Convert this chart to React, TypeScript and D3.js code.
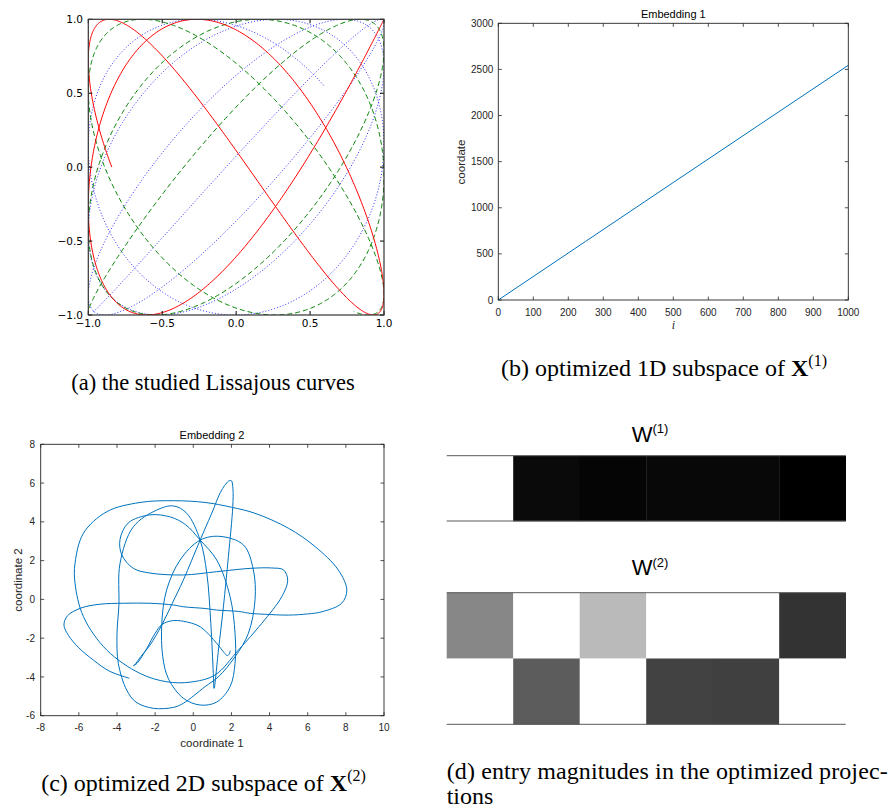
import React from "react";
import * as d3 from "d3";

const SANS = "'Liberation Sans', Arial, Helvetica, sans-serif";
const SERIF = "'Liberation Serif', 'Times New Roman', serif";
const MPL = "'DejaVu Sans', sans-serif";
const AXIS = "#262626";

// (a) Lissajous curves: x = cos(freqX * t), y = cos(freqY * t + phase)
const lissajousColor = ["#0000ff", "#008000", "#ff0000"];
const lissajousDash = ["1,2", "5,3", "none"];
const lissajousOpacity = [0.85, 1, 1];
const lissajousFreqX = [1, 1, Math.SQRT2];
const lissajousFreqY = [1.0948, 1.1547, 2];
const lissajousPhase = [-0.372, -0.31, 0];
const lissajousStart = [3.4, 3.0, -2.25 * Math.PI];
const lissajousEnd = [24.2, 19.5, 0];
const lissajousTicks = [-1, -0.5, 0, 0.5, 1];

// (b) Embedding 1
const embed1Index = [0, 250, 500, 750, 1000];
const embed1Coord = [0, 637, 1274, 1910, 2545];
const embed1XTicks = [0, 100, 200, 300, 400, 500, 600, 700, 800, 900, 1000];
const embed1YTicks = [0, 500, 1000, 1500, 2000, 2500, 3000];

// (c) Embedding 2
const embed2C1 = [
  -3.35, -4.4, -5.24, -6.0, -6.55, -6.78, -6.6, -5.9, -4.9, -3.66, -2.27, -1.04, -0.52, 0.62, 1.23, 2.37, 2.98, 3.8, 4.99,
  6.0, 6.74, 7.78, 8.05, 7.6, 6.39, 4.99, 3.24, 2.02, 0.62, -1.04, -2.79, -4.54, -5.76, -6.2, -6.2, -5.76, -4.54, -2.79,
  -1.39, -0.17, 1.14, 2.37, 3.59, 4.64, 4.95, 4.73, 4.11, 2.98, 1.23, -0.52, -2.27, -3.14, -3.75, -3.84, -3.4, -2.27,
  -1.2, -0.4, 0.36, 1.23, 1.93, 2.19, 2.19, 1.93, 1.22, 0.36, -0.52, -1.3, -1.6, -1.65, -1.4, -0.69, 0.36, 1.4, 2.63,
  3.15, 3.24, 2.89, 2.19, 1.32, 0.62, -0.52, -1.04, -2.09, -3.0, -3.49, -3.93, -4.0, -3.9, -3.84, -3.14, -1.91, -1.04,
  -0.34, 0.36, 0.71, 0.92, 1.05, 1.09, 1.32, 1.58, 1.84, 2.07, 2.08, 2.0, 1.88, 1.49, 0.95, 0.36, -0.52, -1.1, -1.65,
  -2.27, -2.75, -3.08, -3.14, -2.95, -2.45, -2.0, -1.65, -1.1, -0.52, 0.36, 1.23, 1.62, 1.78, 1.9, 1.93,
];
const embed2C2 = [
  -4.07, -3.7, -3.13, -2.5, -1.85, -1.32, -0.85, -0.45, -0.25, -0.2, -0.2, -0.29, -0.38, -0.47, -0.55, -0.62, -0.72, -0.77, -0.81,
  -0.75, -0.64, -0.2, 0.48, 1.52, 2.72, 3.67, 4.44, 4.75, 5.0, 5.09, 5.0, 4.52, 3.41, 1.86, 0.83, -0.89, -2.61, -3.82,
  -4.25, -4.27, -3.9, -2.61, -1.24, 0.14, 1.0, 1.52, 1.62, 1.6, 1.43, 1.26, 1.36, 1.6, 2.3, 3.1, 3.95, 4.36,
  4.25, 3.85, 3.06, 2.03, 0.14, -1.75, -3.3, -4.5, -5.3, -5.45, -5.1, -4.1, -2.96, -1.24, 0.48, 2.03, 3.06, 3.25, 2.81,
  1.52, 0.0, -1.75, -2.96, -3.99, -4.5, -5.36, -5.57, -5.62, -5.3, -4.68, -3.3, -1.8, -0.3, 1.86, 3.75, 4.61, 4.82,
  4.44, 3.06, 1.34, -1.24, -3.82, -4.59, -2.61, -0.38, 2.2, 4.78, 5.7, 6.12, 6.12, 5.64, 4.4, 3.06, 1.0, -0.2, -1.32,
  -2.36, -2.95, -3.38, -3.42, -3.3, -2.55, -1.75, -1.3, -1.1, -1.13, -1.41, -2.27, -2.75, -2.9, -2.8, -2.65,
];
const embed2XTicks = [-8, -6, -4, -2, 0, 2, 4, 6, 8, 10];
const embed2YTicks = [-6, -4, -2, 0, 2, 4, 6, 8];

// (d) entry magnitudes
const w1Magnitude = [[0, 0.96, 0.98, 0.97, 0.97, 1.0]];
const w2Magnitude = [
  [0.47, 0, 0.27, 0, 0, 0.8],
  [0, 0.64, 0, 0.74, 0.75, 0],
];

type Lin = d3.ScaleLinear<number, number>;

function MatlabAxes({ xs, ys, xTicks, yTicks, yLabelGap }: { xs: Lin; ys: Lin; xTicks: number[]; yTicks: number[]; yLabelGap: number }) {
  const [x0, x1] = xs.range();
  const [yb, yt] = ys.range();
  const tl = 3.5;
  return (
    <g fontFamily={SANS} fontSize={10} fill={AXIS}>
      {xTicks.map((t) => (
        <g key={"x" + t}>
          <line x1={xs(t)} x2={xs(t)} y1={yb} y2={yb - tl} stroke={AXIS} strokeWidth={0.8} />
          <line x1={xs(t)} x2={xs(t)} y1={yt} y2={yt + tl} stroke={AXIS} strokeWidth={0.8} />
          <text x={xs(t)} y={yb + 15.5} textAnchor="middle">{String(t)}</text>
        </g>
      ))}
      {yTicks.map((t) => (
        <g key={"y" + t}>
          <line x1={x0} x2={x0 + tl} y1={ys(t)} y2={ys(t)} stroke={AXIS} strokeWidth={0.8} />
          <line x1={x1} x2={x1 - tl} y1={ys(t)} y2={ys(t)} stroke={AXIS} strokeWidth={0.8} />
          <text x={x0 - yLabelGap} y={ys(t) + 3.6} textAnchor="end">{String(t)}</text>
        </g>
      ))}
      <rect x={x0} y={yt} width={x1 - x0} height={yb - yt} fill="none" stroke={AXIS} strokeWidth={0.9} />
    </g>
  );
}

function Heatmap({ rows, top, rowH, left, right }: { rows: number[][]; top: number; rowH: number; left: number; right: number }) {
  const xb = d3.scaleBand<number>().domain(d3.range(rows[0].length)).range([left, right]);
  const yb = d3.scaleBand<number>().domain(d3.range(rows.length)).range([top, top + rowH * rows.length]);
  const gray = d3.scaleLinear<string>().domain([0, 1]).range(["#ffffff", "#000000"]);
  return (
    <g>
      {rows.map((row, r) =>
        row.map((m, c) => (
          <rect key={r + "-" + c} x={xb(c)} y={yb(r)} width={xb.bandwidth() + 0.3} height={yb.bandwidth() + 0.3} fill={gray(m)} />
        ))
      )}
      <line x1={left} x2={right} y1={top} y2={top} stroke="#5a5a5a" strokeWidth={1} />
      <line x1={left} x2={right} y1={top + rowH * rows.length} y2={top + rowH * rows.length} stroke="#5a5a5a" strokeWidth={1} />
    </g>
  );
}

export default function App() {
  // (a)
  const ax = d3.scaleLinear().domain([-1, 1]).range([88.3, 384]);
  const ay = d3.scaleLinear().domain([-1, 1]).range([315, 19.3]);
  const lissajousPaths = lissajousColor.map((_, k) => {
    const ts = d3.range(lissajousStart[k], lissajousEnd[k], 0.01).concat([lissajousEnd[k]]);
    return d3
      .line<number>()
      .x((t) => ax(Math.cos(lissajousFreqX[k] * t)))
      .y((t) => ay(Math.cos(lissajousFreqY[k] * t + lissajousPhase[k])))(ts);
  });
  const fmtA = (v: number) => v.toFixed(1).replace("-", "\u2212");

  // (b)
  const bx = d3.scaleLinear().domain([0, 1000]).range([498.3, 848.3]);
  const by = d3.scaleLinear().domain([0, 3000]).range([300, 23.3]);
  const embed1Line = d3
    .line<number>()
    .x((_, i) => bx(embed1Index[i]))
    .y((v) => by(v))(embed1Coord);

  // (c)
  const cx = d3.scaleLinear().domain([-8, 10]).range([40.7, 384]);
  const cy = d3.scaleLinear().domain([-6, 8]).range([715.7, 444.3]);
  const embed2Line = d3
    .line<number>()
    .x((v) => cx(v))
    .y((_, i) => cy(embed2C2[i]))
    .curve(d3.curveCatmullRom.alpha(0.5))(embed2C1);

  return (
    <svg width={891} height={810} style={{ position: "absolute", left: 0, top: 0, background: "#fff" }}>
      <rect width={891} height={810} fill="#fff" />
      <defs>
        <clipPath id="clipA">
          <rect x={88.3} y={19.3} width={295.7} height={295.7} />
        </clipPath>
      </defs>

      {/* (a) Lissajous curves */}
      <g clipPath="url(#clipA)">
        {lissajousPaths.map((d, k) => (
          <path key={k} d={d || ""} fill="none" stroke={lissajousColor[k]} strokeWidth={1}
            strokeDasharray={lissajousDash[k]} strokeOpacity={lissajousOpacity[k]} />
        ))}
      </g>
      <g fontFamily={MPL} fontSize={10.5} fill="#000">
        {lissajousTicks.map((t) => (
          <g key={"a" + t}>
            <line x1={ax(t)} x2={ax(t)} y1={315} y2={311} stroke="#000" />
            <line x1={ax(t)} x2={ax(t)} y1={19.3} y2={23.3} stroke="#000" />
            <line x1={88.3} x2={92.3} y1={ay(t)} y2={ay(t)} stroke="#000" />
            <line x1={384} x2={380} y1={ay(t)} y2={ay(t)} stroke="#000" />
            <text x={ax(t)} y={327} textAnchor="middle">{fmtA(t)}</text>
            <text x={83} y={ay(t) + 3.8} textAnchor="end">{fmtA(t)}</text>
          </g>
        ))}
        <rect x={88.3} y={19.3} width={295.7} height={295.7} fill="none" stroke="#333" strokeWidth={1.2} />
      </g>
      <text x={213} y={390} textAnchor="middle" fontFamily={SERIF} fontSize={22.5}>(a) the studied Lissajous curves</text>

      {/* (b) Embedding 1 */}
      <path d={embed1Line || ""} fill="none" stroke="#0072BD" strokeWidth={1} />
      <MatlabAxes xs={bx} ys={by} xTicks={embed1XTicks} yTicks={embed1YTicks} yLabelGap={5} />
      <text x={673.3} y={18} textAnchor="middle" fontFamily={SANS} fontSize={11} fill="#000">Embedding 1</text>
      <text transform="translate(465,162) rotate(-90)" textAnchor="middle" fontFamily={SANS} fontSize={11.5} fill={AXIS}>coordate</text>
      <text x={673.3} y={329} textAnchor="middle" fontFamily={SERIF} fontStyle="italic" fontSize={12} fill={AXIS}>i</text>
      <text x={664} y={376} textAnchor="middle" fontFamily={SERIF} fontSize={24}>
        (b) optimized 1D subspace of <tspan fontWeight="bold">X</tspan>
        <tspan dy={-10} fontSize={16}>(1)</tspan>
      </text>

      {/* (c) Embedding 2 */}
      <path d={embed2Line || ""} fill="none" stroke="#0072BD" strokeWidth={1} />
      <MatlabAxes xs={cx} ys={cy} xTicks={embed2XTicks} yTicks={embed2YTicks} yLabelGap={5.7} />
      <text x={212} y={439} textAnchor="middle" fontFamily={SANS} fontSize={11} fill="#000">Embedding 2</text>
      <text x={212} y={747} textAnchor="middle" fontFamily={SANS} fontSize={11.5} fill={AXIS}>coordinate 1</text>
      <text transform="translate(21.5,580) rotate(-90)" textAnchor="middle" fontFamily={SANS} fontSize={11.5} fill={AXIS}>coordinate 2</text>
      <text x={203.5} y={791} textAnchor="middle" fontFamily={SERIF} fontSize={24}>
        (c) optimized 2D subspace of <tspan fontWeight="bold">X</tspan>
        <tspan dy={-10} fontSize={16}>(2)</tspan>
      </text>

      {/* (d) entry magnitudes */}
      <text x={631.7} y={441.7} fontFamily={SANS} fontSize={22}>W<tspan dy={-8.5} fontSize={13}>(1)</tspan></text>
      <Heatmap rows={w1Magnitude} top={455.7} rowH={65.3} left={446.7} right={845.7} />
      <text x={631.7} y={575} fontFamily={SANS} fontSize={22}>W<tspan dy={-8.5} fontSize={13}>(2)</tspan></text>
      <Heatmap rows={w2Magnitude} top={592.7} rowH={65.8} left={446.7} right={845.7} />
      <text x={446.7} y={779} fontFamily={SERIF} fontSize={24} textLength={441} lengthAdjust="spacing">(d) entry magnitudes in the optimized projec-</text>
      <text x={446.7} y={804} fontFamily={SERIF} fontSize={24}>tions</text>
    </svg>
  );
}
